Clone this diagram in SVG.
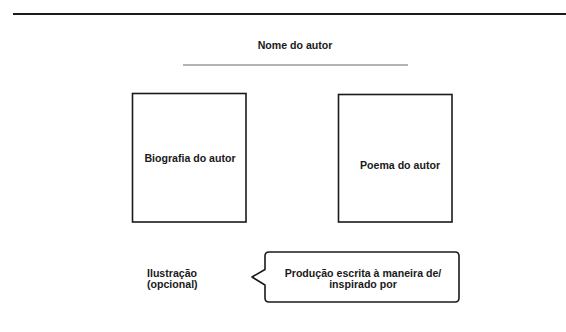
<svg xmlns="http://www.w3.org/2000/svg" width="566" height="332" viewBox="0 0 566 332">
<style>
.t{font-family:"Liberation Sans",Arial,sans-serif;font-weight:bold;font-size:10.6px;fill:#1a1a1a}
.box{fill:#fff;stroke:#1a1a1a;stroke-width:1.6}
</style>
<rect width="566" height="332" fill="#fff"/>
<g id="header">
<line x1="13" y1="14" x2="566" y2="14" stroke="#1a1a1a" stroke-width="2.2"/>
</g>
<g id="nome-autor">
<text class="t" x="295" y="49" text-anchor="middle">Nome do autor</text>
<line x1="183" y1="65" x2="408" y2="65" stroke="#9a9a9a" stroke-width="1.3"/>
</g>
<g id="biografia">
<rect class="box" x="132.5" y="93.5" width="113.5" height="128.5"/>
<text class="t" x="190" y="161.5" text-anchor="middle">Biografia do autor</text>
</g>
<g id="poema">
<rect class="box" x="338.5" y="94.5" width="113.5" height="127.5"/>
<text class="t" x="400" y="168.5" text-anchor="middle">Poema do autor</text>
</g>
<g id="ilustracao">
<text class="t" x="147" y="276.5">Ilustração</text>
<text class="t" x="147" y="287.5">(opcional)</text>
</g>
<g id="producao">
<path class="box" d="M269,252 H455 Q459,252 459,256 V298 Q459,302 455,302 H269 Q265,302 265,298 V285 L252,277 L265,269.5 V256 Q265,252 269,252 Z" stroke-linejoin="round"/>
<text class="t" x="363" y="276.5" text-anchor="middle">Produção escrita à maneira de/</text>
<text class="t" x="363" y="287.5" text-anchor="middle">inspirado por</text>
</g>
<g id="connectors"/>
</svg>
